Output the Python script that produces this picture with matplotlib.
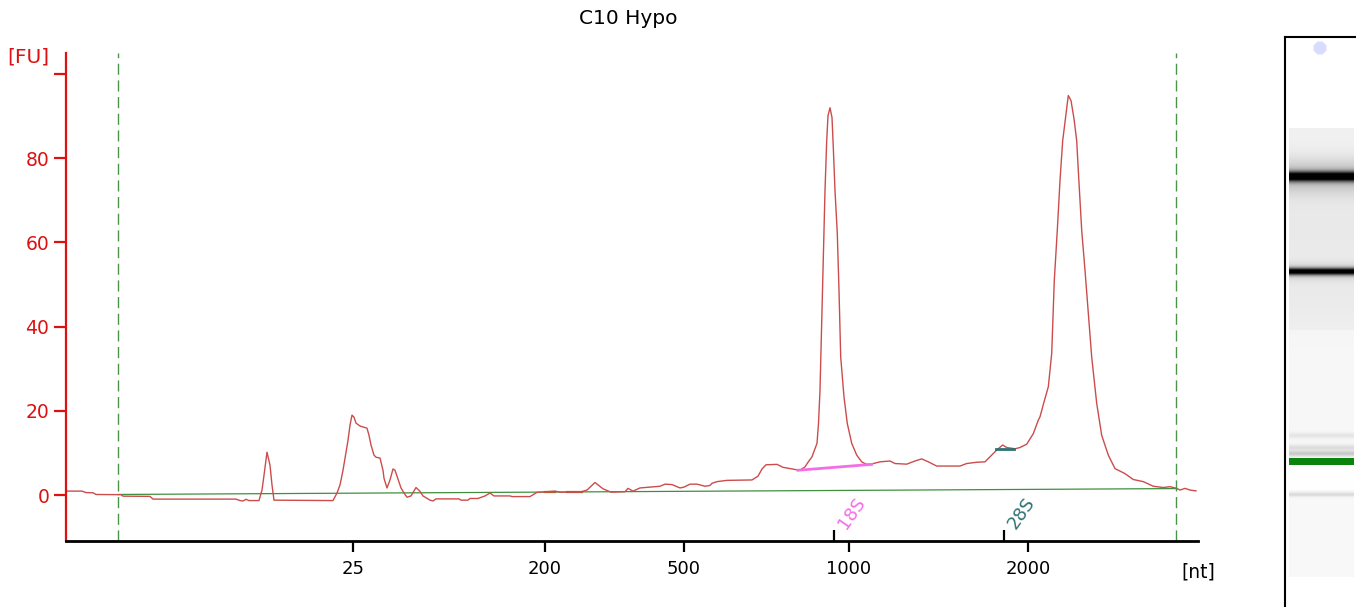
import matplotlib

matplotlib.use("Agg")
import matplotlib.pyplot as plt
import numpy as np

plt.rcParams["font.family"] = ["DejaVu Sans"]

# electropherogram trace: position along the run (scan units) and fluorescence [FU]
trace_pos = [
    66, 82, 86, 93, 96, 118, 121, 123, 150, 153, 236, 240, 243, 246, 249, 259,
    262, 264, 267, 270, 272, 274, 333, 337, 340, 343, 346, 348, 350, 352, 354,
    356, 360, 367, 369, 371, 374, 376, 380, 383, 384, 387, 390, 393, 395, 398,
    401, 404, 407, 411, 416, 420, 423, 430, 433, 436, 459, 461, 468, 470, 478,
    485, 490, 494, 510, 512, 530, 537, 555, 560, 580, 587, 595, 603, 611, 625,
    628, 633, 640, 660, 665, 672, 680, 684, 690, 697, 705, 710, 712, 717, 727,
    752, 758, 762, 766, 777, 783, 797, 800, 805, 808, 812, 817, 818.5, 820,
    821.7, 823.3, 825, 826.7, 828, 830, 832, 833.3, 835, 837.3, 839, 840.7, 844,
    847.3, 851.7, 856.7, 861.7, 866, 870, 880, 890, 895, 906.7, 915, 921.7,
    928.3, 936.7, 960, 966.7, 976.7, 985, 988.3, 996.7, 1002.7, 1006.7, 1015,
    1020, 1026.7, 1033.3, 1038.3, 1040, 1044, 1048.3, 1051.7, 1054.3, 1057.3,
    1060, 1062.7, 1066, 1068.3, 1071, 1074, 1076.7, 1078.3, 1081.7, 1085,
    1088.3, 1091.7, 1096.7, 1101.7, 1108.3, 1115, 1125, 1133.3, 1143.3, 1153.3,
    1163.3, 1170, 1176.7, 1180, 1185, 1190, 1196,
]
trace_fu = [
    0.95, 0.95, 0.6, 0.55, 0.15, 0.1, 0.1, -0.25, -0.3, -0.95, -0.95, -1.3,
    -1.4, -1.0, -1.3, -1.3, 1.2, 4.7, 10.2, 7.1, 2.4, -1.2, -1.3, 0.5, 2.4, 5.9,
    10.2, 13.0, 16.6, 19.0, 18.5, 17.1, 16.4, 15.9, 14.2, 11.9, 9.5, 9.0, 8.8,
    5.9, 4.0, 1.7, 3.6, 6.2, 5.9, 3.8, 1.7, 0.5, -0.5, -0.2, 1.8, 0.9, -0.2,
    -1.2, -1.4, -0.9, -0.9, -1.2, -1.2, -0.8, -0.8, -0.2, 0.5, -0.2, -0.2,
    -0.35, -0.35, 0.65, 0.95, 0.7, 0.7, 1.2, 3.0, 1.5, 0.7, 0.8, 1.6, 0.95, 1.7,
    2.1, 2.6, 2.5, 1.7, 1.9, 2.6, 2.6, 2.1, 2.3, 2.8, 3.2, 3.5, 3.6, 4.5, 6.2,
    7.2, 7.3, 6.6, 6.0, 5.9, 6.7, 7.8, 9.1, 12.3, 17.0, 24.9, 40.8, 56.5, 72.3,
    84.2, 90.1, 92.0, 89.7, 82.6, 72.3, 62.1, 48.6, 32.8, 23.3, 17.0, 12.3, 9.5,
    7.9, 7.35, 7.3, 7.9, 8.1, 7.5, 7.35, 8.1, 8.6, 7.9, 6.9, 6.9, 7.5, 7.8, 7.9,
    8.7, 10.7, 11.9, 11.3, 11.0, 11.3, 12.1, 14.6, 17.8, 18.6, 22.1, 25.7, 33.6,
    51.0, 62.9, 74.7, 84.2, 90.5, 94.9, 93.7, 89.4, 84.2, 77.1, 62.9, 53.4,
    43.1, 32.8, 21.8, 14.2, 9.5, 6.3, 5.1, 3.7, 3.2, 2.1, 1.8, 2.0, 1.6, 1.2,
    1.6, 1.2, 1.0,
]

# baseline and peak integration segments
baseline_pos = [118, 1176]
baseline_fu = [0.15, 1.55]
s18_pos = [798, 871.7]
s18_fu = [5.9, 7.3]
s28_pos = [996, 1014]
s28_fu = [11.0, 11.0]
small_peaks_pos = [[545, 555], [567, 582]]
small_peaks_fu = [[0.75, 0.75], [0.75, 0.75]]

# region limits (dashed green) and ladder ticks
region_pos = [118, 1176]
xtick_pos = [353, 545, 684, 849, 1028]
xtick_labels = ["25", "200", "500", "1000", "2000"]
rrna_pos = [834, 1003.7]
rrna_labels = ["18S", "28S"]
ytick_vals = [0, 20, 40, 60, 80, 100]
ytick_labels = ["0", "20", "40", "60", "80", ""]

# gel lane bands: row, width, darkness
band_rows = [176, 176, 271, 271, 225, 300, 435, 447, 453, 494]
band_widths = [3.5, 12, 2.5, 6, 35, 20, 2, 2, 2, 1.5]
band_dark = [1.0, 0.2, 0.95, 0.12, 0.03, 0.02, 0.07, 0.1, 0.18, 0.12]
gel_zone_start = [128, 330, 465, 490]
gel_zone_dark = [0.055, 0.03, 0.0, 0.025]
marker_band = [458, 465]

RED = "#dd1111"
TRACE = "#cc4c4c"
GREEN = "#3f8f3f"


def draw_electropherogram(fig):
    ax = fig.add_axes([66 / 1356, 1 - 541 / 607, 1132 / 1356, 488 / 607])

    ax.plot(baseline_pos, baseline_fu, color=GREEN, lw=0.9)
    for xs, ys in zip(small_peaks_pos, small_peaks_fu):
        ax.plot(xs, ys, color="#b0602a", lw=1.6)
    ax.plot(trace_pos, trace_fu, color=TRACE, lw=1.0)
    ax.plot(s18_pos, s18_fu, color="#f36ee6", lw=2.0)
    ax.plot(s28_pos, s28_fu, color="#2f7272", lw=2.0)

    for xv in region_pos:
        ax.axvline(xv, color="#4a944a", lw=1.0, ls=(0, (8, 4)))

    ax.set_xlim(66, 1198)
    ax.set_ylim(-10.9, 105)

    ax.spines[["right", "top"]].set_visible(False)
    ax.spines["left"].set_color(RED)
    ax.spines["left"].set_linewidth(1.6)
    ax.spines["bottom"].set_color("black")
    ax.spines["bottom"].set_linewidth(2.0)

    ax.set_yticks(ytick_vals, ytick_labels)
    ax.tick_params(axis="y", colors=RED, labelcolor=RED, length=9, width=1.6,
                   labelsize=13.5, pad=3)
    ax.set_xticks(xtick_pos, xtick_labels)
    ax.set_xticks(rrna_pos, minor=True)
    ax.tick_params(axis="x", which="major", length=8, width=1.6, labelsize=13,
                   pad=6)
    ax.tick_params(axis="x", which="minor", direction="in", length=8, width=1.6)

    for xv, lab, col in zip(rrna_pos, rrna_labels, ["#f36ee6", "#2f7272"]):
        ax.text(xv + 18, -4.3, lab, color=col, fontsize=13, rotation=55,
                ha="center", va="center")

    fig.text(28 / 1356, 1 - 57 / 607, "[FU]", color=RED, fontsize=14.5,
             ha="center", va="center")
    fig.text(1198 / 1356, 1 - 572 / 607, "[nt]", color="black", fontsize=13.5,
             ha="center", va="center")
    fig.text(628 / 1356, 1 - 18 / 607, "C10 Hypo", fontsize=14.5,
             ha="center", va="center")
    return ax


def draw_gel(fig):
    gax = fig.add_axes([1285 / 1356, 0, 71 / 1356, 570 / 607])
    gax.set_xlim(1285, 1356)
    gax.set_ylim(607, 37)
    gax.set_xticks([])
    gax.set_yticks([])
    gax.spines[["right", "bottom"]].set_visible(False)
    gax.spines["left"].set_linewidth(1.5)
    gax.spines["top"].set_linewidth(1.5)

    rows = np.arange(128, 577)
    dark = np.zeros(len(rows))
    for start, d in zip(gel_zone_start, gel_zone_dark):
        dark[rows >= start] = d
    for c, w, a in zip(band_rows, band_widths, band_dark):
        dark += a * np.exp(-0.5 * ((rows - c) / w) ** 2)
    gray = np.clip(1.0 - dark, 0, 1)
    img = np.repeat(gray[:, None, None], 3, axis=2)
    gax.imshow(img, extent=[1289, 1354, 577, 128], aspect="auto",
               interpolation="bilinear")
    gax.axhspan(marker_band[0], marker_band[1], xmin=4 / 71, xmax=69 / 71,
                color="#0a840a", lw=0)
    gax.scatter([1320], [48], s=100, marker="8", color="#dadcff",
                edgecolors="none")
    return gax


fig = plt.figure(figsize=(13.56, 6.07), dpi=100)
draw_electropherogram(fig)
draw_gel(fig)
fig.savefig("out.png", dpi=100)
plt.close(fig)
